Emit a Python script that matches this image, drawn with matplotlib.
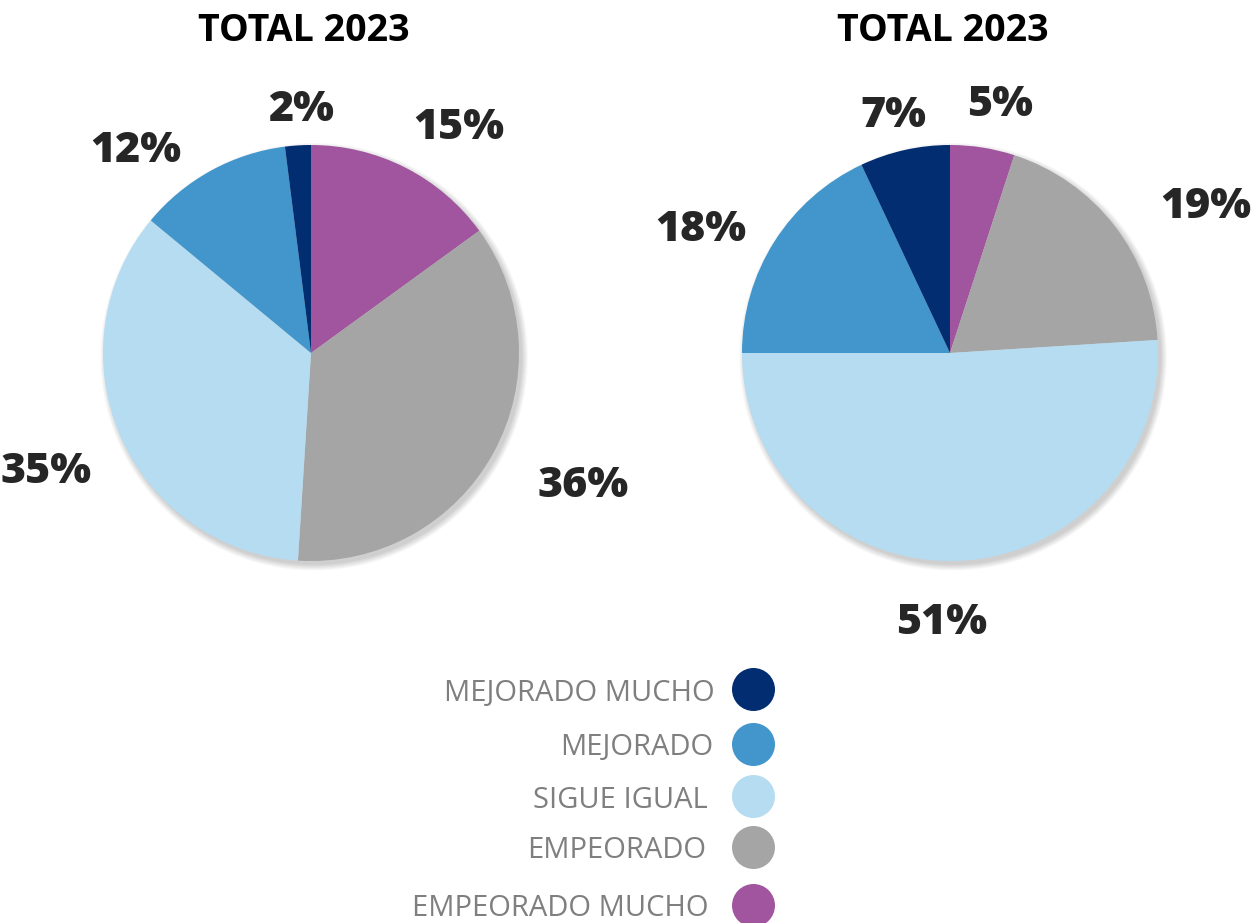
import matplotlib
matplotlib.use("Agg")
import matplotlib.pyplot as plt
from matplotlib.patches import Circle

# ---- data ----
categories = ["MEJORADO MUCHO", "MEJORADO", "SIGUE IGUAL", "EMPEORADO", "EMPEORADO MUCHO"]
colors = ["#022D71", "#4296CB", "#B5DCF1", "#A5A5A5", "#A0559E"]
left_values = [2, 12, 35, 36, 15]
right_values = [7, 18, 51, 19, 5]
titles = ["TOTAL 2023", "TOTAL 2023"]

W, H = 1257, 923
fig = plt.figure(figsize=(W / 100, H / 100), dpi=100)
fig.patch.set_facecolor("white")

R = 208  # pie radius in px


def pie_axes(cx, cy):
    half = 1.5 * R
    ax = fig.add_axes([(cx - half) / W, 1 - (cy + half) / H, 2 * half / W, 2 * half / H])
    return ax


def draw_pie(ax, values, label_pos):
    # clockwise from 12 o'clock, order: EMPEORADO MUCHO, EMPEORADO, SIGUE IGUAL, MEJORADO, MEJORADO MUCHO
    order = [4, 3, 2, 1, 0]
    vals = [values[i] for i in order]
    cols = [colors[i] for i in order]
    # soft shadow
    for k in range(8):
        ax.add_patch(Circle((0.015, -0.018), 1.0 + 0.004 * k, color="black", alpha=0.025,
                            lw=0, zorder=0))
    wedges, _ = ax.pie(vals, colors=cols, startangle=90, counterclock=False,
                       wedgeprops=dict(linewidth=0), radius=1.0)
    for w in wedges:
        w.set_zorder(2)
    for i, (x, y) in zip(order, label_pos):
        ax.text(x, y, f"{values[i]}%", ha="center", va="center", fontsize=31,
                fontfamily="Open Sans", fontweight="heavy", color="#262626")
    ax.set_xlim(-1.5, 1.5)
    ax.set_ylim(-1.5, 1.5)
    ax.set_aspect("equal")
    ax.axis("off")


axL = pie_axes(311, 353)
draw_pie(axL, left_values,
         [(0.71, 1.08), (1.31, -0.64), (-1.275, -0.57), (-0.84, 0.97), (-0.05, 1.17)])
axR = pie_axes(950, 353)
draw_pie(axR, right_values,
         [(0.24, 1.19), (1.23, 0.70), (-0.04, -1.30), (-1.20, 0.59), (-0.27, 1.14)])

# overlay in pixel coordinates
ov = fig.add_axes([0, 0, 1, 1], zorder=5)
ov.set_xlim(0, W)
ov.set_ylim(H, 0)
ov.axis("off")
ov.patch.set_alpha(0)

ov.text(304, 31, titles[0], ha="center", va="center", fontsize=27,
        fontfamily="Open Sans", fontweight="bold", color="black")
ov.text(943, 31, titles[1], ha="center", va="center", fontsize=27,
        fontfamily="Open Sans", fontweight="bold", color="black")

row_y = [689, 744, 796, 847, 905]
text_right = [715, 713, 708, 706, 708]
for cat, col, y, xr in zip(categories, colors, row_y, text_right):
    ov.scatter([753], [y], s=43 ** 2 * 0.72 * 0.72, color=col, lw=0)
    ov.text(xr, y + 4, cat, ha="right", va="center", fontsize=21,
            fontfamily="Open Sans", color="#7F7F7F")

fig.savefig("out.png", dpi=100, facecolor="white")
